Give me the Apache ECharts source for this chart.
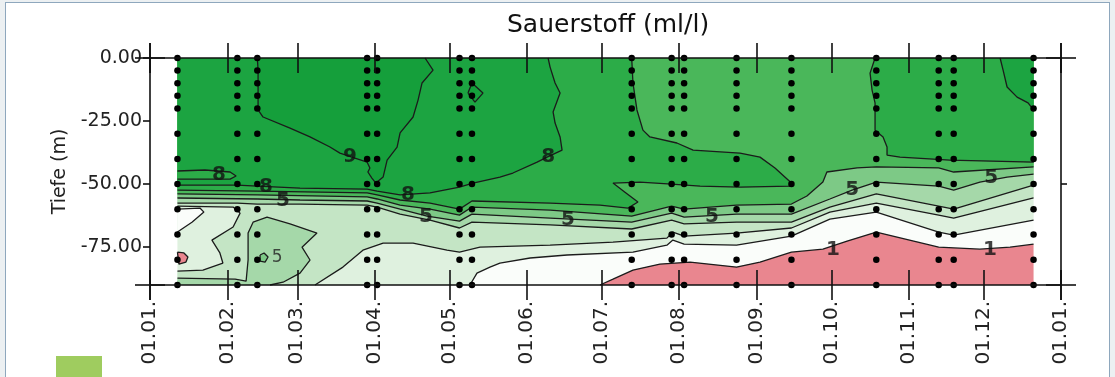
<!DOCTYPE html>
<html>
<head>
<meta charset="utf-8">
<script src="https://cdn.jsdelivr.net/npm/echarts@6/dist/echarts.min.js"></script>
<style>
  html, body { margin: 0; padding: 0; width: 1115px; height: 377px; overflow: hidden; background: #ecf0f2; }
  #frame { position: absolute; left: 5px; top: 2px; width: 1105px; height: 400px; border: 1.5px solid #8ea7bd; background: #fff; box-sizing: border-box; }
  #tab { position: absolute; left: 56px; top: 356px; width: 46px; height: 21px; background: #9fcc5f; }
  #chart { position: absolute; left: 0; top: 0; width: 1115px; height: 377px; }
</style>
</head>
<body>
<div id="frame"></div>
<div id="tab"></div>
<div id="chart"></div>
<script>
// Sampling stations (day of year) and sampled depths (m)
const STATION_DAYS = [11, 35, 43, 87, 91, 124, 129, 193, 209, 214, 235, 257, 291, 316, 322, 354];
const SAMPLE_DEPTHS = [0, -5, -10, -15, -20, -30, -40, -50, -60, -70, -80, -90];

// Axis ticks
const MONTH_STARTS = [0, 31, 59, 90, 120, 151, 181, 212, 243, 273, 304, 334, 365];
const MONTH_LABELS = ['01.01.', '01.02.', '01.03.', '01.04.', '01.05.', '01.06.', '01.07.',
                      '01.08.', '01.09.', '01.10.', '01.11.', '01.12.', '01.01.'];
const DEPTH_TICKS = [0, -25, -50, -75];

// Extent of the gridded field
const DATA_START = 11, DATA_END = 354, MAX_DEPTH = -90;

// Isolines, [day, depth] — oxygen in ml/l
const ISO_1 = [[180.3,-90],[185.5,-87.7],[193.5,-84.1],[204.3,-81.7],[216.4,-80.9],[235,-82.9],[244.4,-80.9],
  [257,-77.0],[269.6,-75.8],[279.3,-72.6],[291,-69.0],[316,-75.0],[332.5,-75.8],[344.6,-75.0],[354,-73.8]];
const ISO_1_LEFT = [[11,-77.0],[13.6,-77.3],[15.2,-78.9],[14.4,-80.9],[11.6,-81.7]];

const ISO_2 = [[128.2,-90],[131.0,-85.3],[136.2,-82.9],[140.2,-81.3],[152.3,-79.3],[167.1,-78.1],[193.5,-77.0],
  [207.1,-74.2],[209.5,-72.2],[214,-73.8],[235,-74.2],[257,-70.6],[272.4,-63.9],[291,-61.1],[316,-69.0],
  [322,-70.2],[354,-64.3]];
const ISO_2_LEFT = [[11,-59.9],[20.0,-59.5],[21.6,-61.1],[16.8,-65.1],[11,-69.0]];

const ISO_3 = [[66.1,-90],[77.3,-82.9],[85.3,-76.2],[93.4,-73.4],[105.4,-73.4],[119.0,-76.2],[124,-77.0],
  [132.2,-75.0],[160.3,-74.2],[185.5,-73.0],[207.1,-71.4],[209.5,-69.0],[214,-70.6],[235,-69.4],[257,-67.4],
  [272.4,-61.1],[291,-57.5],[316,-62.3],[322,-63.5],[354,-55.5]];
const ISO_3_LEFT = [[11,-58.7],[33.3,-59.1],[36.1,-61.5],[33.3,-67.0],[24.8,-72.2],[28.0,-77.3],[29.2,-81.3],
  [21.2,-84.1],[11,-84.5]];

const ISO_4 = [[11,-57.5],[35,-57.5],[43,-57.9],[60.1,-57.9],[87,-58.3],[91,-59.1],[100.2,-61.9],[112.2,-64.3],
  [124,-67.4],[129,-65.1],[160.3,-66.2],[193,-67.8],[209,-64.3],[214,-65.8],[235,-65.1],[257,-65.1],
  [272.4,-59.1],[291,-53.9],[316,-58.7],[322,-59.9],[354,-50.4]];
const ISO_4_BLOB = [[11,-87.3],[34.1,-87.7],[38.5,-88.5],[39.3,-80.1],[39.3,-69.4],[41.3,-65.1],[46.9,-63.1],
  [56.1,-65.8],[66.9,-69.4],[60.9,-75.0],[64.1,-80.1],[60.1,-85.3],[53.3,-88.9],[48.1,-90]];

const ISO_5 = [[11,-55.5],[43,-55.9],[60.1,-56.3],[87,-56.7],[91,-57.5],[100.2,-59.9],[111.0,-62.7],[124,-64.7],
  [129,-61.9],[160.3,-63.5],[193,-65.1],[209,-61.5],[214,-63.1],[235,-61.9],[257,-61.9],[272.4,-55.9],
  [281.3,-52.4],[291,-49.2],[316,-50.8],[322,-52.4],[332.5,-49.2],[343.4,-47.2],[354,-46.0]];
const ISO_5_LOOP = [[44.1,-78.1],[45.7,-77.3],[47.3,-78.9],[46.1,-80.9],[44.1,-80.5]];

const ISO_6 = [[11,-53.9],[43,-54.3],[87,-55.1],[91,-55.9],[100.2,-58.3],[112.2,-59.9],[124,-62.3],[129,-59.1],
  [160.3,-60.3],[193,-62.7],[209,-58.7],[214,-59.9],[235,-58.3],[257,-57.9],[263.2,-54.7],[269.6,-49.2],
  [271.2,-45.2],[283.3,-43.6],[291,-43.2],[316,-43.6],[322,-45.2],[354,-43.2]];

const ISO_7 = [[193,0],[193.5,-9.9],[195.1,-20.6],[197.5,-28.6],[200.3,-31.3],[211.1,-33.7],[217.6,-36.5],
  [236.4,-37.7],[244.4,-39.3],[250.4,-43.6],[257,-49.6],[256.4,-50.8],[236.4,-51.2],[220.4,-50.8],[209,-50.0],
  [196.3,-49.2],[185.5,-49.6],[190.3,-53.2],[195.5,-57.1],[191.5,-59.5],[180.3,-58.3],[160.3,-57.5],
  [129,-56.7],[124,-59.9],[112.2,-57.5],[100.2,-56.3],[91,-54.3],[87,-53.5],[43,-52.8],[11,-52.4]];
const ISO_7_RIGHT = [[290.5,0],[288.5,-6.0],[289.3,-12.7],[290.5,-17.8],[290.5,-28.6],[293.7,-31.3],
  [295.3,-35.3],[295.3,-38.5],[300.5,-39.3],[320.5,-40.5],[354,-41.3]];

const ISO_8 = [[159.5,0],[160.3,-3.6],[162.3,-9.9],[164.3,-13.9],[161.5,-21.4],[162.3,-25.8],[164.3,-31.3],
  [165.1,-36.5],[159.1,-39.3],[155.1,-41.3],[145.4,-45.6],[140.2,-47.2],[129.4,-49.6],[124,-51.2],
  [112.2,-53.5],[100.2,-54.3],[91,-52.8],[87,-52.0],[60.1,-51.6],[43,-50.8],[35,-50.4],[11,-50.4]];
const ISO_8_FINGER = [[11,-44.8],[22.0,-44.4],[32.1,-45.2],[34.5,-46.8],[32.1,-48.0],[11,-48.0]];
const ISO_8_CORNER = [[340.6,0],[341.8,-4.8],[343.4,-11.5],[347.4,-15.5],[351.8,-17.8],[354,-20.6]];

const ISO_9 = [[43,0],[43.3,-4.8],[43.3,-20.6],[45.3,-23.4],[56.1,-27.8],[64.1,-31.3],[72.1,-35.3],[76.1,-37.7],
  [82.1,-39.7],[87,-41.3],[88.1,-43.6],[87.3,-45.2],[88.9,-47.6],[90.5,-49.6],[93.4,-47.2],[95.0,-40.5],
  [99.0,-35.3],[100.2,-29.7],[105.4,-23.4],[107.4,-16.7],[109.0,-9.9],[113.4,-4.8],[110.2,0]];
const ISO_9_LOOP = [[127.4,-13.9],[129,-9.9],[133.4,-13.9],[130.2,-17.5]];

// Isoline labels: [text, day, depth]
const CONTOUR_LABELS = [
  ['9', 80.1, -39.3], ['8', 27.6, -46.4], ['8', 46.5, -51.2], ['5', 53.3, -56.7],
  ['8', 103.4, -54.3], ['5', 110.6, -63.1], ['8', 159.5, -39.3], ['5', 167.5, -64.3],
  ['5', 225.2, -63.1], ['5', 281.3, -52.4], ['5', 337.0, -47.6], ['1', 273.6, -76.2], ['1', 336.5, -76.2]
];
const SMALL_LABELS = [['5', 50.9, -79.3]];

// Fill colour per oxygen class: <1, 1-2, 2-3, ... , >=9
const BAND_COLORS = ['#e9868f', '#fafdfa', '#dff1df', '#c4e5c5', '#a5d8a9', '#7dc986', '#4ab75a',
                     '#2cac48', '#1ca441', '#159f3b'];

const TL = [DATA_START, 0], TR = [DATA_END, 0], BR = [DATA_END, MAX_DEPTH], BL = [DATA_START, MAX_DEPTH];
const rev = a => a.slice().reverse();
const closed = a => a.concat([a[0]]);

// Filled classes, painted from low to high values
const REGIONS = [
  { band: 1, pts: [TL, TR, BR, BL] },
  { band: 0, pts: [...ISO_1, BR] },
  { band: 2, pts: [TL, TR, ...rev(ISO_2), BL] },
  { band: 3, pts: [TL, TR, ...rev(ISO_3), BL, ...rev(ISO_3_LEFT)] },
  { band: 4, pts: [TL, TR, ...rev(ISO_4)] },
  { band: 4, pts: [...ISO_4_BLOB, BL] },
  { band: 5, pts: [TL, TR, ...rev(ISO_5)] },
  { band: 5, pts: ISO_5_LOOP },
  { band: 6, pts: [TL, TR, ...rev(ISO_6)] },
  { band: 7, pts: [TL, ...ISO_7] },
  { band: 7, pts: [...ISO_7_RIGHT, TR] },
  { band: 8, pts: [TL, ...ISO_8] },
  { band: 7, pts: ISO_8_FINGER },
  { band: 8, pts: [...ISO_8_CORNER, TR] },
  { band: 9, pts: ISO_9 },
  { band: 9, pts: ISO_9_LOOP },
  { band: 1, pts: ISO_2_LEFT },
  { band: 0, pts: ISO_1_LEFT }
];

const ISOLINES = [ISO_1, closed(ISO_1_LEFT), ISO_2, ISO_2_LEFT, ISO_3, ISO_3_LEFT, ISO_4, ISO_4_BLOB,
  ISO_5, closed(ISO_5_LOOP), ISO_6, ISO_7, ISO_7_RIGHT, ISO_8, ISO_8_FINGER, ISO_8_CORNER, ISO_9, closed(ISO_9_LOOP)];

const FONT = 'DejaVu Sans';
const INK = '#111';
const axisLine = { show: true, onZero: false, lineStyle: { color: INK, width: 1.6 },
                   symbol: ['rect', 'rect'], symbolSize: [1.6, 30] };
const tickStyle = { color: INK, width: 1.6 };

function xAxisDef(position, inside, withLine, withLabels) {
  return {
    type: 'value', position, min: 0, max: 365, z: 10,
    axisLine: withLine ? axisLine : { show: false, onZero: false },
    splitLine: { show: false },
    axisTick: { show: true, inside, length: 15, customValues: MONTH_STARTS, lineStyle: tickStyle },
    axisLabel: withLabels ? {
      show: true, customValues: MONTH_STARTS, rotate: 90, margin: 16,
      fontFamily: FONT, fontSize: 20, color: '#222',
      formatter: v => MONTH_LABELS[MONTH_STARTS.indexOf(v)]
    } : { show: false }
  };
}

const series = [];

series.push({
  type: 'custom', coordinateSystem: 'cartesian2d', silent: true, z: 1, clip: true,
  data: REGIONS.map((r, i) => [i, 0]),
  renderItem: (params, api) => {
    const r = REGIONS[api.value(0)];
    return { type: 'polygon', shape: { points: r.pts.map(p => api.coord(p)) },
             style: { fill: BAND_COLORS[r.band], stroke: null } };
  }
});

ISOLINES.forEach(pts => series.push({
  type: 'line', data: pts, symbol: 'none', silent: true, z: 3, clip: false,
  lineStyle: { color: '#1b1b1b', width: 1.3 }
}));

series.push({
  type: 'scatter', silent: true, z: 4, clip: false, symbolSize: 6.5,
  itemStyle: { color: '#000', opacity: 1 },
  data: STATION_DAYS.flatMap(d => SAMPLE_DEPTHS.map(z => [d, z]))
});

series.push({
  type: 'scatter', silent: true, z: 5, clip: false, symbolSize: 1,
  itemStyle: { color: 'rgba(0,0,0,0)' },
  data: CONTOUR_LABELS.map(l => [l[1], l[2], l[0]]),
  label: { show: true, position: 'inside', formatter: p => p.value[2],
           fontFamily: FONT, fontWeight: 'bold', fontSize: 20, color: INK }
});

series.push({
  type: 'scatter', silent: true, z: 5, clip: false, symbolSize: 1,
  itemStyle: { color: 'rgba(0,0,0,0)' },
  data: SMALL_LABELS.map(l => [l[1], l[2], l[0]]),
  label: { show: true, position: 'inside', formatter: p => p.value[2],
           fontFamily: FONT, fontSize: 17, color: '#222' }
});

const chart = echarts.init(document.getElementById('chart'), null, { renderer: 'canvas' });
chart.setOption({
  animation: false,
  backgroundColor: 'transparent',
  title: {
    text: 'Sauerstoff (ml/l)', left: 502, top: 8,
    textStyle: { fontFamily: FONT, fontSize: 25, fontWeight: 'normal', color: INK }
  },
  grid: { left: 150, right: 54, top: 58, bottom: 92, containLabel: false, outerBoundsMode: 'none' },
  xAxis: [
    xAxisDef('bottom', false, true, true),
    xAxisDef('bottom', true, false, false),
    xAxisDef('top', false, true, false),
    xAxisDef('top', true, false, false)
  ],
  yAxis: [
    {
      type: 'value', position: 'left', min: MAX_DEPTH, max: 0, z: 10,
      axisLine, splitLine: { show: false },
      axisTick: { show: true, length: 7, customValues: DEPTH_TICKS, lineStyle: tickStyle },
      axisLabel: { customValues: DEPTH_TICKS, formatter: v => v.toFixed(2), margin: 8,
                   fontFamily: FONT, fontSize: 19, color: '#222' },
      name: 'Tiefe (m)', nameLocation: 'middle', nameRotate: 90, nameGap: 76,
      nameTextStyle: { fontFamily: FONT, fontSize: 19, color: '#222' }
    },
    {
      type: 'value', position: 'right', min: MAX_DEPTH, max: 0, z: 10,
      axisLine, splitLine: { show: false },
      axisTick: { show: true, length: 6, customValues: [-50], lineStyle: tickStyle },
      axisLabel: { show: false }
    }
  ],
  series
});
</script>
</body>
</html>
